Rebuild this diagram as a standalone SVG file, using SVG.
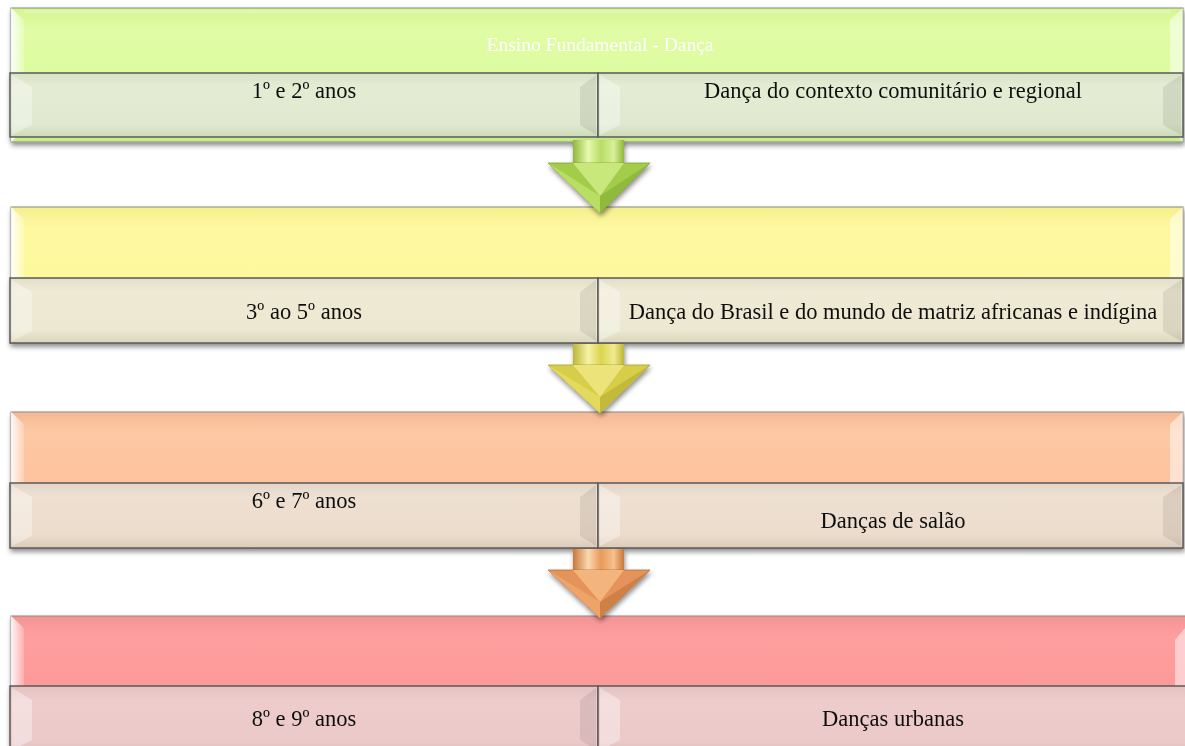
<svg xmlns="http://www.w3.org/2000/svg" width="1185" height="746" viewBox="0 0 1185 746">
<defs>
<filter id="sh" x="-5%" y="-20%" width="110%" height="150%"><feGaussianBlur in="SourceAlpha" stdDeviation="2.5"/><feOffset dx="1" dy="3"/><feComponentTransfer><feFuncA type="linear" slope="0.45"/></feComponentTransfer><feMerge><feMergeNode/><feMergeNode in="SourceGraphic"/></feMerge></filter>
<linearGradient id="gTop1" x1="0" y1="0" x2="0" y2="1"><stop offset="0" stop-color="#d4f58f"/><stop offset="0.15" stop-color="#e0fca6"/><stop offset="0.85" stop-color="#dafb99"/><stop offset="1" stop-color="#c8ec84"/></linearGradient>
<linearGradient id="gTop2" x1="0" y1="0" x2="0" y2="1"><stop offset="0" stop-color="#f5ef8c"/><stop offset="0.15" stop-color="#fef9a2"/><stop offset="0.85" stop-color="#fdf894"/><stop offset="1" stop-color="#f0ea80"/></linearGradient>
<linearGradient id="gTop3" x1="0" y1="0" x2="0" y2="1"><stop offset="0" stop-color="#f5b994"/><stop offset="0.15" stop-color="#fdc8a4"/><stop offset="0.85" stop-color="#fdbf98"/><stop offset="1" stop-color="#f0b088"/></linearGradient>
<linearGradient id="gTop4" x1="0" y1="0" x2="0" y2="1"><stop offset="0" stop-color="#f59494"/><stop offset="0.15" stop-color="#fe9e9e"/><stop offset="0.85" stop-color="#fd9494"/><stop offset="1" stop-color="#ee7f80"/></linearGradient>
<linearGradient id="gSub1" x1="0" y1="0" x2="0" y2="1"><stop offset="0" stop-color="#d8e2c6"/><stop offset="0.2" stop-color="#e4ecd4"/><stop offset="0.8" stop-color="#e0e9cf"/><stop offset="1" stop-color="#cfdab9"/></linearGradient>
<linearGradient id="gSub2" x1="0" y1="0" x2="0" y2="1"><stop offset="0" stop-color="#e2decb"/><stop offset="0.2" stop-color="#eeead4"/><stop offset="0.8" stop-color="#ece8d1"/><stop offset="1" stop-color="#dbd6bc"/></linearGradient>
<linearGradient id="gSub3" x1="0" y1="0" x2="0" y2="1"><stop offset="0" stop-color="#e2d4c6"/><stop offset="0.2" stop-color="#eee0d2"/><stop offset="0.8" stop-color="#ecdccc"/><stop offset="1" stop-color="#dccbbb"/></linearGradient>
<linearGradient id="gSub4" x1="0" y1="0" x2="0" y2="1"><stop offset="0" stop-color="#e2c2c2"/><stop offset="0.2" stop-color="#eecccc"/><stop offset="0.8" stop-color="#ecc9c9"/><stop offset="1" stop-color="#dcb8b8"/></linearGradient>
<linearGradient id="shaftG" x1="0" y1="0" x2="1" y2="0"><stop offset="0" stop-color="#8fb83a"/><stop offset="0.3" stop-color="#e8f8b0"/><stop offset="0.55" stop-color="#b8dc64"/><stop offset="0.8" stop-color="#d8f09a"/><stop offset="1" stop-color="#8fb83a"/></linearGradient>
<linearGradient id="shaftY" x1="0" y1="0" x2="1" y2="0"><stop offset="0" stop-color="#bdb636"/><stop offset="0.3" stop-color="#f6f2a8"/><stop offset="0.55" stop-color="#dcd44e"/><stop offset="0.8" stop-color="#f0ea90"/><stop offset="1" stop-color="#bdb636"/></linearGradient>
<linearGradient id="shaftO" x1="0" y1="0" x2="1" y2="0"><stop offset="0" stop-color="#c8783a"/><stop offset="0.3" stop-color="#fad8b0"/><stop offset="0.55" stop-color="#e89a58"/><stop offset="0.8" stop-color="#f6c08c"/><stop offset="1" stop-color="#c8783a"/></linearGradient>
<linearGradient id="hl" x1="0" y1="0" x2="1" y2="0"><stop offset="0" stop-color="#ffffff" stop-opacity="0.9"/><stop offset="1" stop-color="#ffffff" stop-opacity="0.2"/></linearGradient>
</defs>
<style>
.outer{stroke:#8a8a8a;stroke-width:1}
.sub{stroke:#5a5a5a;stroke-width:1.5}
.bev{fill:#ffffff;opacity:0.35}
.bevd{fill:#000000;opacity:0.08}
.lbl{font-family:"Liberation Serif","DejaVu Serif",serif;font-size:22.5px;fill:#111111}
.title{font-family:"Liberation Serif","DejaVu Serif",serif;font-size:19.5px;fill:#ffffff}
</style>

<g id="panel1" filter="url(#sh)">
  <rect class="outer" x="11" y="8" width="1172" height="134" fill="url(#gTop1)"/>
  <polygon points="11,8 24,20 24,130 11,142" fill="url(#hl)"/>
  <polygon points="1183,8 1170,20 1170,130 1183,142" fill="#ffffff" opacity="0.5"/>
  <rect x="24" y="10" width="1146" height="3" fill="#ffffff" opacity="0.25"/>
  <text class="title" x="600" y="51" text-anchor="middle">Ensino Fundamental - Dança</text>
  <rect class="sub" x="10" y="73" width="588" height="64" fill="url(#gSub1)"/>
  <rect class="sub" x="598" y="73" width="585" height="64" fill="url(#gSub1)"/>
  <polygon points="12,75 32,87 32,125 12,135" class="bev"/>
  <polygon points="596,75 580,87 580,125 596,135" class="bevd"/>
  <polygon points="600,75 620,87 620,125 600,135" class="bev"/>
  <polygon points="1181,75 1163,87 1163,125 1181,135" class="bevd"/>
  <text class="lbl" x="304" y="98" text-anchor="middle">1º e 2º anos</text>
  <text class="lbl" x="893" y="98" text-anchor="middle">Dança do contexto comunitário e regional</text>
</g>

<g id="panel2" filter="url(#sh)">
  <rect class="outer" x="11" y="207" width="1172" height="136" fill="url(#gTop2)"/>
  <polygon points="11,207 24,219 24,331 11,343" fill="url(#hl)"/>
  <polygon points="1183,207 1170,219 1170,331 1183,343" fill="#ffffff" opacity="0.5"/>
  <rect class="sub" x="10" y="278" width="588" height="65" fill="url(#gSub2)"/>
  <rect class="sub" x="598" y="278" width="585" height="65" fill="url(#gSub2)"/>
  <polygon points="12,280 32,292 32,331 12,341" class="bev"/>
  <polygon points="596,280 580,292 580,331 596,341" class="bevd"/>
  <polygon points="600,280 620,292 620,331 600,341" class="bev"/>
  <polygon points="1181,280 1163,292 1163,331 1181,341" class="bevd"/>
  <text class="lbl" x="304" y="319" text-anchor="middle">3º ao 5º anos</text>
  <text class="lbl" x="893" y="319" text-anchor="middle">Dança do Brasil e do mundo de matriz africanas e indígina</text>
</g>

<g id="panel3" filter="url(#sh)">
  <rect class="outer" x="11" y="412" width="1172" height="136" fill="url(#gTop3)"/>
  <polygon points="11,412 24,424 24,536 11,548" fill="url(#hl)"/>
  <polygon points="1183,412 1170,424 1170,536 1183,548" fill="#ffffff" opacity="0.5"/>
  <rect class="sub" x="10" y="483" width="588" height="65" fill="url(#gSub3)"/>
  <rect class="sub" x="598" y="483" width="585" height="65" fill="url(#gSub3)"/>
  <polygon points="12,485 32,497 32,536 12,546" class="bev"/>
  <polygon points="596,485 580,497 580,536 596,546" class="bevd"/>
  <polygon points="600,485 620,497 620,536 600,546" class="bev"/>
  <polygon points="1181,485 1163,497 1163,536 1181,546" class="bevd"/>
  <text class="lbl" x="304" y="508" text-anchor="middle">6º e 7º anos</text>
  <text class="lbl" x="893" y="528" text-anchor="middle">Danças de salão</text>
</g>

<g id="panel4" filter="url(#sh)">
  <rect class="outer" x="11" y="616" width="1176" height="140" fill="url(#gTop4)"/>
  <polygon points="11,616 24,628 24,746 11,756" fill="url(#hl)"/>
  <polygon points="1185,628 1175,640 1175,746 1185,746" fill="#ffffff" opacity="0.5"/>
  <rect class="sub" x="10" y="686" width="588" height="70" fill="url(#gSub4)"/>
  <rect class="sub" x="598" y="686" width="590" height="70" fill="url(#gSub4)"/>
  <polygon points="12,688 32,700 32,740 12,750" class="bev"/>
  <polygon points="596,688 580,700 580,740 596,750" class="bevd"/>
  <polygon points="600,688 620,700 620,740 600,750" class="bev"/>
  <text class="lbl" x="304" y="726" text-anchor="middle">8º e 9º anos</text>
  <text class="lbl" x="893" y="726" text-anchor="middle">Danças urbanas</text>
</g>

<g id="connectors">
  <g id="arrow1" filter="url(#sh)">
    <rect x="573" y="140" width="51" height="24" fill="url(#shaftG)"/>
    <polygon points="548,163 650,163 600,213" fill="#a4cc4c" stroke="#7fa236" stroke-width="0.8"/>
    <polygon points="548,163 600,196 600,213" fill="#b8de64"/>
    <polygon points="650,163 600,196 600,213" fill="#8fba3e"/>
    <polygon points="573,163 624,163 600,196" fill="#c8e87c"/>
  </g>
  <g id="arrow2" filter="url(#sh)">
    <rect x="573" y="344" width="51" height="22" fill="url(#shaftY)"/>
    <polygon points="548,365 650,365 600,413" fill="#d6ce48" stroke="#aaa230" stroke-width="0.8"/>
    <polygon points="548,365 600,397 600,413" fill="#e2da5c"/>
    <polygon points="650,365 600,397 600,413" fill="#c2ba38"/>
    <polygon points="573,365 624,365 600,397" fill="#ece47a"/>
  </g>
  <g id="arrow3" filter="url(#sh)">
    <rect x="573" y="549" width="51" height="22" fill="url(#shaftO)"/>
    <polygon points="548,570 650,570 600,618" fill="#e4945a" stroke="#b86e38" stroke-width="0.8"/>
    <polygon points="548,570 600,602 600,618" fill="#eea468"/>
    <polygon points="650,570 600,602 600,618" fill="#cf8046"/>
    <polygon points="573,570 624,570 600,602" fill="#f4b47e"/>
  </g>
</g>
</svg>
